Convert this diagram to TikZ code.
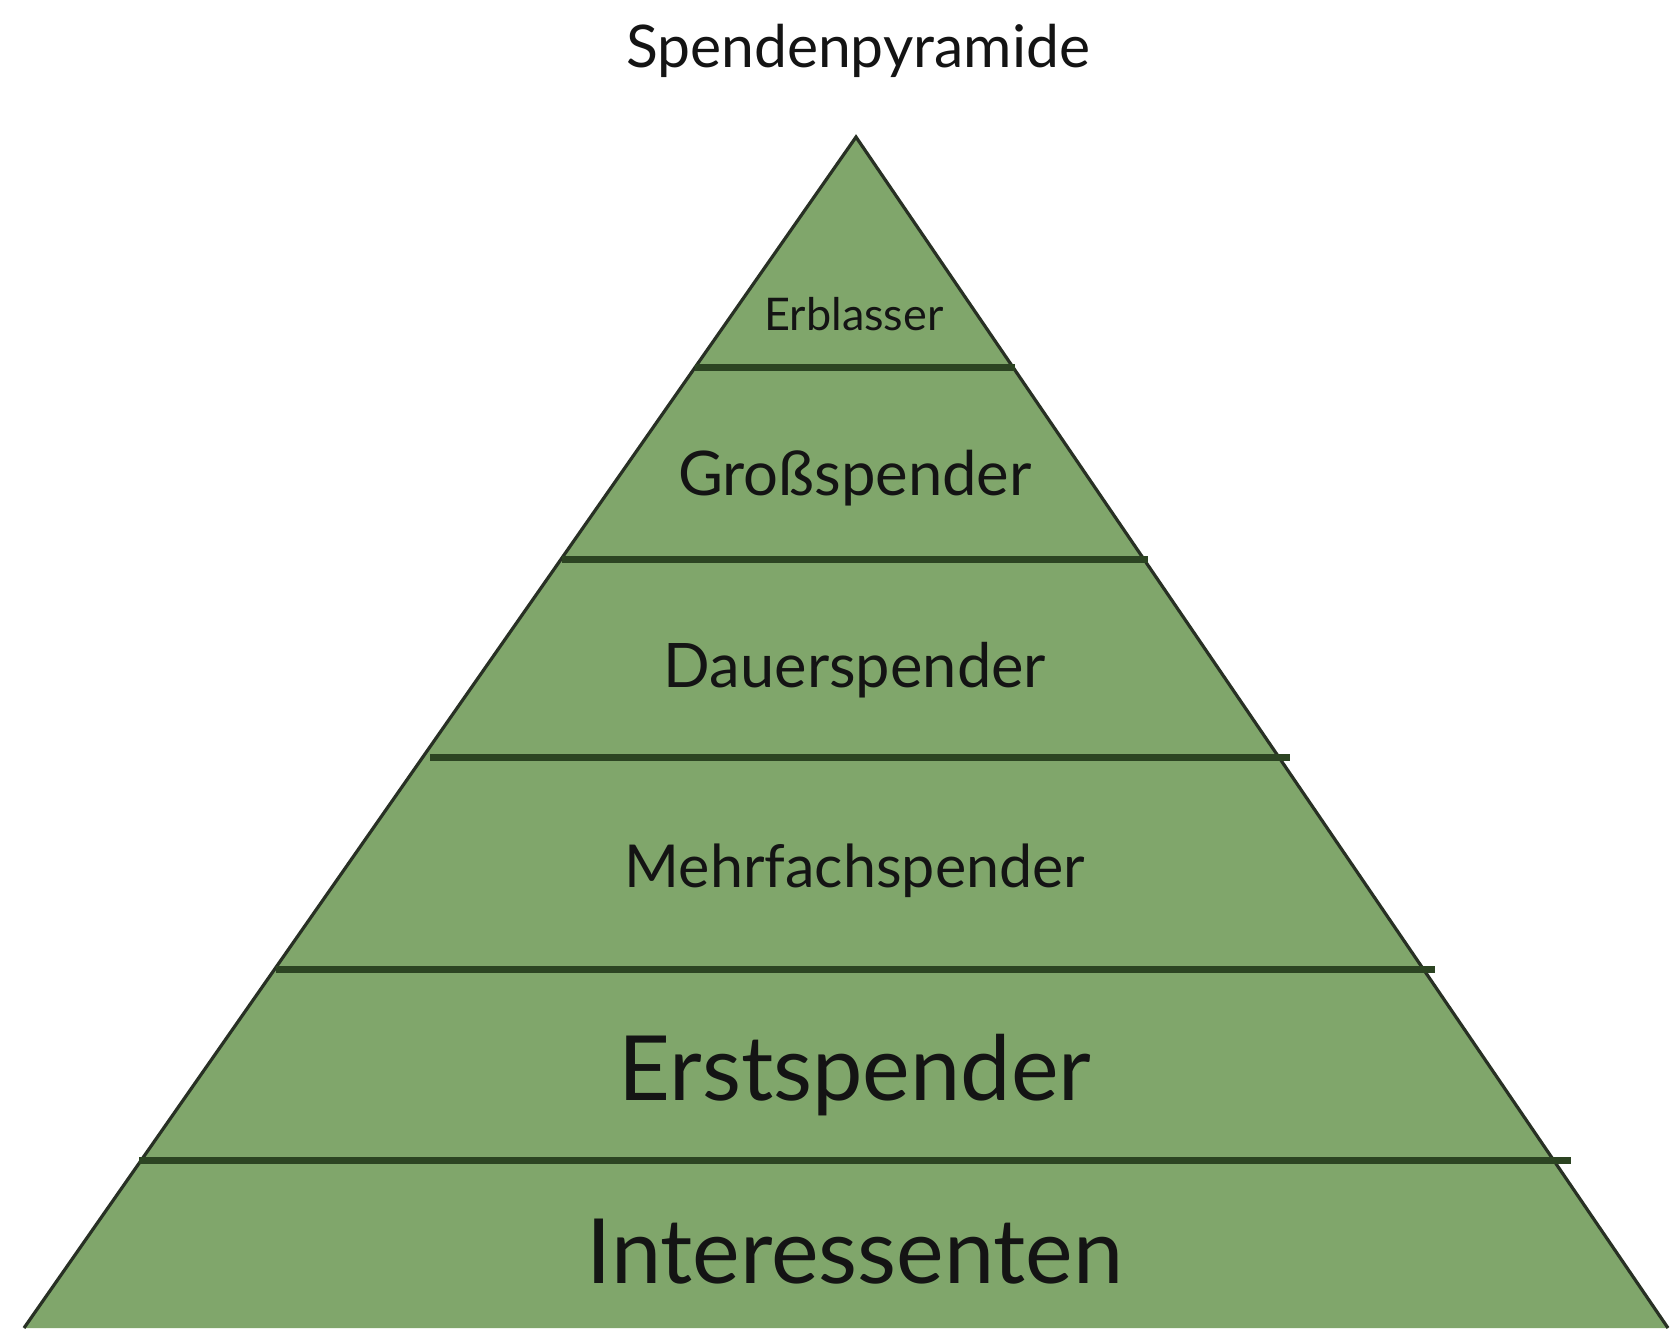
\documentclass[tikz,border=0pt]{standalone}
\usepackage{fontspec}
\setmainfont{Lato}
\definecolor{pyrfill}{RGB}{128,166,107}
\definecolor{pyredge}{RGB}{40,48,36}
\definecolor{divline}{RGB}{44,68,34}
\begin{document}
\begin{tikzpicture}[x=0.5pt,y=-0.5pt,
  lbl/.style={anchor=base,inner sep=0pt,text=black!92},
  divider/.style={draw=divline,line width=3.5pt}]
\useasboundingbox (0,0) rectangle (1670,1328);
\fill[white] (0,0) rectangle (1670,1328);
% pyramid
\coordinate (apex) at (856,137);
\coordinate (bl) at (24,1328);
\coordinate (br) at (1668,1328);
\filldraw[fill=pyrfill,draw=pyredge,line width=1.6pt,line join=miter] (bl) -- (apex) -- (br);
% dividers
\coordinate (d1l) at (695,367);  \coordinate (d1r) at (1015,367);
\coordinate (d2l) at (562,559);  \coordinate (d2r) at (1148,559);
\coordinate (d3l) at (430,757);  \coordinate (d3r) at (1290,757);
\coordinate (d4l) at (276,969);  \coordinate (d4r) at (1435,969);
\coordinate (d5l) at (139,1160); \coordinate (d5r) at (1571,1160);
\draw[divider] (d1l) -- (d1r);
\draw[divider] (d2l) -- (d2r);
\draw[divider] (d3l) -- (d3r);
\draw[divider] (d4l) -- (d4r);
\draw[divider] (d5l) -- (d5r);
% labels
\node[lbl,font=\fontsize{29.4}{31}\selectfont] (title) at (858,67) {Spendenpyramide};
\node[lbl,font=\fontsize{22.5}{24}\selectfont] (t1) at (854,330) {Erblasser};
\node[lbl,font=\fontsize{30.8}{33}\selectfont] (t2) at (855,495) {Großspender};
\node[lbl,font=\fontsize{30.7}{33}\selectfont] (t3) at (855,687) {Dauerspender};
\node[lbl,font=\fontsize{29.6}{32}\selectfont] (t4) at (855,887) {Mehrfachspender};
\node[lbl,font=\fontsize{45}{48}\selectfont] (t5) at (855,1100) {Erstspender};
\node[lbl,font=\fontsize{45}{48}\selectfont] (t6) at (855,1283) {Interessenten};
\end{tikzpicture}
\end{document}
